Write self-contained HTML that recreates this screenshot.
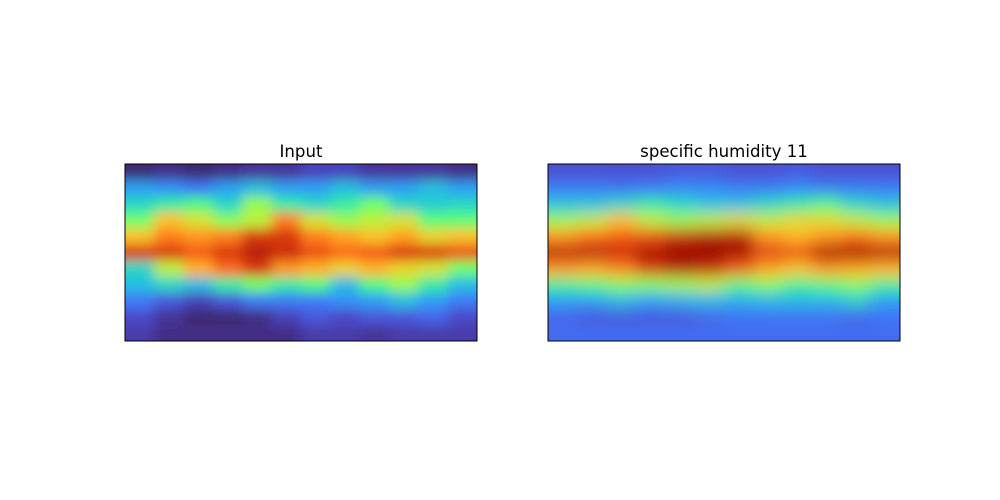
<!DOCTYPE html>
<html><head><meta charset="utf-8"><style>
html,body{margin:0;padding:0;background:#fff;}
svg{display:block;font-family:"DejaVu Sans","Liberation Sans",sans-serif;}
</style></head><body>
<svg id="fig" width="1000" height="500" viewBox="0 0 1000 500">
<defs>
<clipPath id="clipL"><rect x="125" y="164" width="352" height="177"/></clipPath>
<clipPath id="clipR"><rect x="548" y="164" width="352" height="177"/></clipPath>
<filter id="blurL" x="-10%" y="-10%" width="120%" height="120%"><feGaussianBlur stdDeviation="6"/></filter>
<filter id="blurR" x="-10%" y="-10%" width="120%" height="120%"><feGaussianBlur stdDeviation="8"/></filter>
</defs>
<text x="301" y="157" text-anchor="middle" font-size="16.6">Input</text>
<text x="724" y="157" text-anchor="middle" font-size="16.6">specific humidity 11</text>
<g clip-path="url(#clipL)"><g id="heatL" filter="url(#blurL)"></g></g>
<g clip-path="url(#clipR)"><g id="heatR" filter="url(#blurR)"></g></g>
<rect x="125" y="164" width="352" height="177" fill="none" stroke="#000" stroke-width="1"/>
<rect x="548" y="164" width="352" height="177" fill="none" stroke="#000" stroke-width="1"/>
</svg>
<script>
const inputGrid = [
[0.03,0.04,0.03,0.04,0.05,0.05,0.07,0.07,0.05,0.05,0.05,0.04],
[0.2,0.18,0.15,0.2,0.25,0.2,0.2,0.25,0.2,0.2,0.25,0.2],
[0.3,0.35,0.4,0.3,0.5,0.35,0.3,0.35,0.45,0.3,0.28,0.3],
[0.45,0.65,0.58,0.48,0.55,0.75,0.58,0.5,0.55,0.58,0.42,0.42],
[0.65,0.75,0.72,0.75,0.85,0.85,0.75,0.7,0.65,0.7,0.62,0.65],
[0.85,0.85,0.8,0.85,0.9,0.87,0.82,0.78,0.8,0.85,0.85,0.82],
[0.3,0.55,0.68,0.78,0.85,0.72,0.68,0.62,0.68,0.62,0.58,0.45],
[0.25,0.3,0.25,0.35,0.45,0.35,0.4,0.25,0.4,0.5,0.35,0.25],
[0.15,0.1,0.07,0.1,0.15,0.15,0.15,0.18,0.2,0.25,0.2,0.15],
[0.08,0.05,0.03,0.03,0.04,0.07,0.1,0.08,0.1,0.1,0.12,0.08],
[0.06,0.04,0.04,0.04,0.04,0.04,0.06,0.06,0.05,0.06,0.06,0.06]
];
const predGrid = [
[0.09,0.09,0.09,0.09,0.1,0.1,0.09,0.09,0.1,0.09,0.09,0.09],
[0.15,0.15,0.14,0.15,0.17,0.17,0.15,0.15,0.17,0.15,0.15,0.15],
[0.26,0.26,0.3,0.35,0.3,0.26,0.26,0.3,0.35,0.4,0.3,0.26],
[0.5,0.55,0.65,0.55,0.5,0.55,0.6,0.55,0.6,0.6,0.55,0.5],
[0.72,0.77,0.8,0.82,0.87,0.9,0.9,0.72,0.67,0.72,0.77,0.72],
[0.9,0.9,0.87,0.92,0.96,0.96,0.93,0.84,0.82,0.92,0.93,0.9],
[0.72,0.7,0.75,0.85,0.9,0.88,0.8,0.7,0.65,0.72,0.7,0.68],
[0.38,0.42,0.48,0.48,0.52,0.55,0.42,0.48,0.38,0.42,0.48,0.38],
[0.2,0.2,0.24,0.2,0.22,0.24,0.22,0.24,0.24,0.24,0.28,0.2],
[0.12,0.1,0.1,0.1,0.1,0.12,0.14,0.14,0.14,0.14,0.12,0.14],
[0.13,0.13,0.13,0.13,0.13,0.13,0.13,0.13,0.13,0.13,0.13,0.13]
];
function turbo(x){
  x=Math.max(0,Math.min(1,x));
  const r=0.13572138+x*(4.61539260+x*(-42.66032258+x*(132.13108234+x*(-152.94239396+x*59.28637943))));
  const g=0.09140261+x*(2.19418839+x*(4.84296658+x*(-14.18503333+x*(4.27729857+x*2.82956604))));
  const b=0.10667330+x*(12.64194608+x*(-60.58204836+x*(110.36276771+x*(-89.90310912+x*27.34824973))));
  const c=v=>Math.round(Math.max(0,Math.min(1,v))*255);
  return `rgb(${c(r)},${c(g)},${c(b)})`;
}
const NS="http://www.w3.org/2000/svg";
function draw(gid,grid,x0,y0,w,h){
  const g=document.getElementById(gid);
  const rows=grid.length, cols=grid[0].length;
  const cw=w/cols, ch=h/rows, pad=25;
  for(let i=0;i<rows;i++){for(let j=0;j<cols;j++){
    let x=x0+j*cw, y=y0+i*ch, ww=cw+0.5, hh=ch+0.5;
    if(j===0){x-=pad;ww+=pad;} if(j===cols-1){ww+=pad;}
    if(i===0){y-=pad;hh+=pad;} if(i===rows-1){hh+=pad;}
    const r=document.createElementNS(NS,"rect");
    
    
    r.setAttribute("x",x);r.setAttribute("y",y);
    r.setAttribute("width",ww);r.setAttribute("height",hh);
    r.setAttribute("fill",turbo(grid[i][j]));
    g.appendChild(r);
  }}
}
draw("heatL",inputGrid,125,164,352,177);
draw("heatR",predGrid,548,164,352,177);
</script>
</body></html>
